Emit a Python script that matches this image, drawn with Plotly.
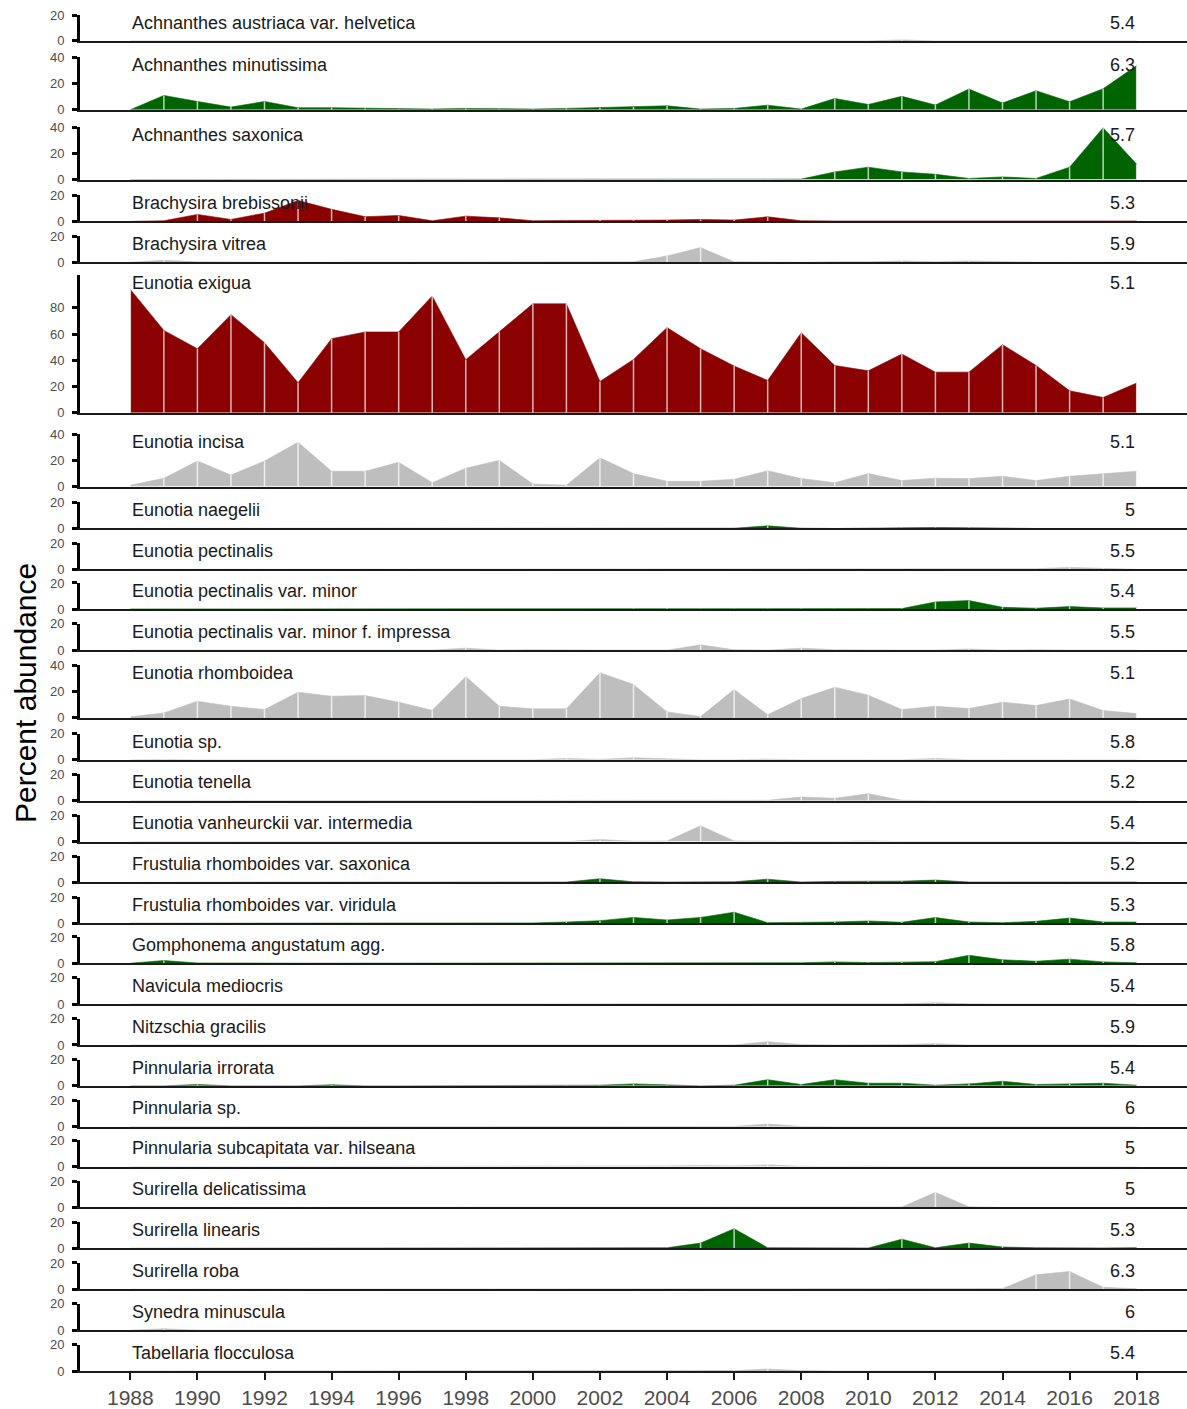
import plotly.graph_objects as go

# ---------------- data ----------------
years = list(range(1988, 2019))
x_tick_years = list(range(1988, 2019, 2))

taxa = [
    "Achnanthes austriaca var. helvetica", "Achnanthes minutissima", "Achnanthes saxonica",
    "Brachysira brebissonii", "Brachysira vitrea", "Eunotia exigua", "Eunotia incisa",
    "Eunotia naegelii", "Eunotia pectinalis", "Eunotia pectinalis var. minor",
    "Eunotia pectinalis var. minor f. impressa", "Eunotia rhomboidea", "Eunotia sp.",
    "Eunotia tenella", "Eunotia vanheurckii var. intermedia",
    "Frustulia rhomboides var. saxonica", "Frustulia rhomboides var. viridula",
    "Gomphonema angustatum agg.", "Navicula mediocris", "Nitzschia gracilis",
    "Pinnularia irrorata", "Pinnularia sp.", "Pinnularia subcapitata var. hilseana",
    "Surirella delicatissima", "Surirella linearis", "Surirella roba",
    "Synedra minuscula", "Tabellaria flocculosa",
]
ph_optima = ["5.4", "6.3", "5.7", "5.3", "5.9", "5.1", "5.1", "5", "5.5", "5.4", "5.5", "5.1",
             "5.8", "5.2", "5.4", "5.2", "5.3", "5.8", "5.4", "5.9", "5.4", "6", "5", "5",
             "5.3", "6.3", "6", "5.4"]
trend = ["none", "up", "up", "down", "none", "down", "none", "up", "none", "up", "none", "none",
         "none", "none", "none", "up", "up", "up", "none", "none", "up", "none", "none", "none",
         "up", "none", "none", "none"]
panel_max = [20, 40, 40, 20, 20, 105, 40, 20, 20, 20, 20, 40, 20, 20, 20, 20, 20, 20, 20, 20,
             20, 20, 20, 20, 20, 20, 20, 20]

y_ticks_small = [0, 20]
y_ticks_mid = [0, 20, 40]
y_ticks_big = [0, 20, 40, 60, 80]

achnanthes_austriaca = [0, 0, 0, 0, 0, 0, 0, 0, 0, 0, 0, 0, 0, 0, 0, 0, 0, 0, 0, 0, 0, 0, 0, 0.8, 0, 0, 0, 0, 0, 0, 0]
achnanthes_minutissima = [0, 10.9, 6.3, 2, 6.3, 1.5, 1.5, 1, 0.5, 0.5, 1, 0.5, 0.5, 1, 1.5, 2, 3, 0.5, 1, 3.5, 0.5, 8.6, 4, 10.2, 3.6, 15.8, 5.1, 14.5, 6.1, 16, 33.6]
achnanthes_saxonica = [0, 0, 0, 0, 0, 0, 0, 0, 0, 0, 0, 0, 0, 0, 0, 0.2, 0.2, 0.2, 0.3, 0.3, 0.3, 5.8, 9.4, 5.8, 4, 0.8, 2, 0.8, 9.4, 39.4, 11.7]
brachysira_brebissonii = [0, 0.5, 5.3, 1.5, 6.3, 16, 9.2, 3.6, 4.5, 0.5, 4, 2.7, 0.5, 0.5, 1, 0.8, 1, 1.5, 1, 3.5, 0.5, 0.3, 0.3, 0.3, 0.3, 0.3, 0.3, 0.3, 0.3, 0.3, 0.3]
brachysira_vitrea = [0, 1.5, 0.3, 0, 0, 0, 0, 0, 0, 0, 0, 0, 0, 0, 0, 0.3, 4.8, 11.2, 0.3, 0, 0, 0.3, 0.3, 1, 0.3, 1, 0.3, 0, 0, 0, 0]
eunotia_exigua = [94, 62.8, 48.8, 74.8, 53.4, 22.9, 56.5, 61.6, 61.6, 89, 40.5, 62, 83, 83, 23.9, 40.7, 64.9, 48.9, 35.6, 24.7, 61, 36.1, 32, 44.8, 31, 31, 51.9, 36.1, 16.8, 11.7, 22.7]
eunotia_incisa = [1, 6.3, 19.5, 8.8, 19.5, 33.8, 11.7, 11.7, 18.5, 3, 14, 20, 2, 1, 21.9, 9.9, 4, 4, 5.6, 12, 6.1, 3, 9.9, 4.6, 6.4, 6.1, 7.9, 4.6, 7.9, 9.9, 11.7]
eunotia_naegelii = [0, 0, 0, 0, 0, 0, 0, 0, 0, 0, 0, 0, 0, 0, 0, 0, 0, 0, 0.2, 2, 0.2, 0, 0, 0.5, 0.8, 0.8, 0.3, 0, 0, 0, 0]
eunotia_pectinalis = [0, 0, 0, 0, 0, 0, 0, 0, 0, 0, 0, 0, 0, 0, 0, 0, 0, 0, 0, 0, 0, 0, 0, 0, 0, 0, 0, 0.5, 1.5, 0.8, 0]
eunotia_pectinalis_minor = [0.2, 0.2, 0.2, 0.2, 0.2, 0.2, 0.2, 0.2, 0.2, 0.2, 0.2, 0.2, 0.2, 0.2, 0.2, 0.5, 0.7, 0.3, 0.3, 0.3, 0.5, 0.3, 0.3, 0.5, 5.6, 6.6, 1.5, 0.8, 2, 1, 1]
eunotia_pectinalis_impressa = [0, 0, 0, 0, 0, 0, 0, 0, 0, 0, 1.5, 0, 0.3, 0, 0, 0, 0, 4, 0.3, 0, 1.5, 0.3, 0, 0, 0, 0.8, 0, 0.3, 0, 0, 0]
eunotia_rhomboidea = [0.8, 3.8, 12.7, 8.9, 6.4, 19.6, 16.5, 17, 12, 5.8, 31.5, 8.9, 6.9, 6.9, 34.4, 25.4, 4.6, 1, 21.6, 2.5, 14.7, 23.4, 17.3, 6.4, 8.9, 7.1, 12, 9.4, 14.5, 5.6, 3.3]
eunotia_sp = [0, 0.3, 0, 0, 0, 0, 0, 0, 0, 0, 0, 0, 0, 1, 0.3, 1.5, 0.5, 0, 0, 0.5, 0, 0, 0.5, 0, 1, 0, 0, 0, 0.5, 0, 0]
eunotia_tenella = [0, 0, 0, 0, 0, 0, 0, 0, 0, 0, 0, 0, 0, 0, 0, 0, 0, 0, 0, 0.3, 2.8, 1.8, 5.3, 0.3, 0, 0, 0, 0, 0, 0, 0]
eunotia_vanheurckii = [0, 0, 0, 0, 0, 0, 0, 0, 0, 0, 0, 0, 0, 0, 1.5, 0.3, 0.5, 12, 0.5, 0, 0, 0, 0.5, 0, 0, 0, 0, 0, 0.5, 0, 0]
frustulia_saxonica = [0, 0, 0, 0, 0, 0, 0, 0, 0, 0, 0, 0, 0.2, 0.3, 2.8, 0.5, 0.3, 0.3, 0.5, 2.5, 0.3, 0.8, 1, 1, 1.8, 0.3, 0.3, 0.3, 0.8, 0.3, 0.3]
frustulia_viridula = [0, 0, 0, 0, 0, 0, 0, 0, 0.3, 0.3, 0.3, 0.5, 0.3, 1, 2, 4.5, 2.5, 4.5, 8.5, 0.5, 0.5, 1, 1.8, 0.8, 4.4, 1, 0.5, 1.5, 4, 1, 1]
gomphonema_angustatum = [0, 2, 0.2, 0, 0, 0, 0, 0, 0, 0, 0, 0, 0, 0, 0, 0, 0, 0, 0, 0, 0.3, 1, 0.5, 0.8, 1.2, 6, 2.6, 1.5, 3.1, 1, 0.3]
navicula_mediocris = [0, 0, 0, 0, 0, 0, 0, 0, 0, 0, 0, 0, 0, 0, 0, 0, 0, 0, 0, 0, 0, 0, 0, 0.2, 1, 0.2, 0, 0, 0, 0, 0]
nitzschia_gracilis = [0, 0, 0, 0, 0, 0, 0, 0, 0, 0, 0, 0, 0, 0, 0, 0, 0, 0, 0, 2.5, 0.3, 0, 0, 0.3, 1, 0, 0, 0, 0, 0, 0]
pinnularia_irrorata = [0, 0, 1, 0, 0, 0, 0.8, 0, 0, 0, 0, 0, 0, 0.5, 0.5, 1.5, 0.5, 0, 0.5, 4.7, 1, 4.7, 2, 2, 0.5, 1.5, 3.5, 1, 1.5, 2, 0.5]
pinnularia_sp = [0, 0, 0, 0, 0, 0, 0, 0, 0, 0, 0, 0, 0, 0, 0, 0, 0, 0, 0.2, 2, 0.2, 0, 0, 0, 0, 0, 0, 0, 0, 0, 0]
pinnularia_subcapitata = [0, 0, 0, 0, 0, 0, 0, 0, 0, 0, 0, 0, 0, 0, 0, 0.3, 0.5, 0.8, 0.5, 1.2, 0.3, 0, 0.3, 0, 0, 0, 0, 0, 0, 0, 0]
surirella_delicatissima = [0, 0, 0, 0, 0, 0, 0, 0, 0, 0, 0, 0, 0, 0, 0, 0, 0, 0, 0, 0, 0, 0, 0, 0.3, 11.5, 0.5, 0, 0, 0, 0, 0]
surirella_linearis = [0, 0, 0, 0, 0, 0, 0, 0, 0, 0, 0, 0, 0, 0, 0, 0, 0.5, 4, 15, 0.5, 0.3, 0.3, 0.3, 7, 0.5, 4, 1, 0.5, 0.3, 0.3, 0.5]
surirella_roba = [0, 0, 0, 0, 0, 0, 0, 0, 0, 0, 0, 0, 0, 0, 0, 0, 0, 0, 0, 0, 0, 0, 0, 0, 0, 0, 0.5, 11, 13.5, 1.5, 0.3]
synedra_minuscula = [0, 1, 0, 0, 0, 0, 0, 0, 0, 0, 0, 0, 0, 0, 0, 0, 0, 0, 0, 0, 0, 0, 0, 0, 0, 0, 0, 0, 0, 0, 0]
tabellaria_flocculosa = [0, 0, 0, 0, 0, 0, 0, 0, 0, 0, 0, 0, 0, 0, 0, 0, 0, 0, 0.3, 1.5, 0.3, 0, 0, 0, 0, 0, 0, 0, 0, 0, 0]

series = [
    achnanthes_austriaca, achnanthes_minutissima, achnanthes_saxonica, brachysira_brebissonii,
    brachysira_vitrea, eunotia_exigua, eunotia_incisa, eunotia_naegelii, eunotia_pectinalis,
    eunotia_pectinalis_minor, eunotia_pectinalis_impressa, eunotia_rhomboidea, eunotia_sp,
    eunotia_tenella, eunotia_vanheurckii, frustulia_saxonica, frustulia_viridula,
    gomphonema_angustatum, navicula_mediocris, nitzschia_gracilis, pinnularia_irrorata,
    pinnularia_sp, pinnularia_subcapitata, surirella_delicatissima, surirella_linearis,
    surirella_roba, synedra_minuscula, tabellaria_flocculosa,
]

# ---------------- layout / style ----------------
trend_colors = {"up": "#006400", "down": "#8B0000", "none": "#BEBEBE"}
FONT = "Liberation Sans, Arial, sans-serif"
W, H = 1187, 1409
M_L, M_R, M_T, M_B = 80, 0, 15, 34
P = H - M_T - M_B
PX_PER_UNIT = 1.3167
# pixel row of each panel's baseline (layout only)
panel_base_px = [41, 110, 180, 222, 263, 414, 488, 530, 571, 611, 652, 720, 762, 803, 844,
                 885, 926, 966, 1007, 1048, 1089, 1130, 1170, 1211, 1252, 1293, 1334, 1375]
n = len(taxa)
plot_bottom = H - M_B


def clamp(v):
    return min(1.0, max(0.0, round(v, 6)))


fig = go.Figure()
layout = {}
annotations = []
for i, (name, vals) in enumerate(zip(taxa, series)):
    k = i + 1
    xa = "x" if k == 1 else f"x{k}"
    ya = "y" if k == 1 else f"y{k}"
    col = trend_colors[trend[i]]
    fig.add_trace(go.Scatter(
        x=years, y=vals, mode="lines", fill="tozeroy", fillcolor=col,
        line=dict(color=col, width=0.6), xaxis=xa, yaxis=ya, hoverinfo="skip",
        showlegend=False))
    sx, sy = [], []
    for yr, v in zip(years, vals):
        if v > 0:
            sx += [yr, yr, None]
            sy += [0, v, None]
    fig.add_trace(go.Scatter(
        x=sx, y=sy, mode="lines", line=dict(color="rgba(255,255,255,0.72)", width=1.5),
        xaxis=xa, yaxis=ya, hoverinfo="skip", showlegend=False))

    base = panel_base_px[i]
    top = base - panel_max[i] * PX_PER_UNIT
    dom = [clamp((plot_bottom - base) / P), clamp((plot_bottom - top) / P)]
    if panel_max[i] > 40:
        tv = y_ticks_big
    elif panel_max[i] > 20:
        tv = y_ticks_mid
    else:
        tv = y_ticks_small
    last = (k == n)
    layout["xaxis" if k == 1 else f"xaxis{k}"] = dict(
        domain=[0, 1], anchor=ya, range=[1986.5, 2019.5],
        showline=True, linecolor="#1a1a1a", linewidth=2,
        showgrid=False, zeroline=False,
        showticklabels=last, ticks="outside" if last else "",
        tickvals=x_tick_years, ticklen=7, tickwidth=1.6, tickcolor="#1a1a1a",
        tickfont=dict(family=FONT, size=21, color="#4d4d4d"),
        **({} if k == 1 else {"matches": "x"}))
    layout["yaxis" if k == 1 else f"yaxis{k}"] = dict(
        domain=dom, anchor=xa, range=[0, panel_max[i]],
        showline=True, linecolor="black", linewidth=3,
        showgrid=False, zeroline=False,
        ticks="outside", ticklen=5, tickwidth=3, tickcolor="black",
        tickvals=tv, tickfont=dict(family=FONT, size=13, color="#4d4d4d"),
        ticklabelstandoff=5)
    annotations.append(dict(
        x=1988, y=1, xref=xa, yref=f"{ya} domain", text=name, showarrow=False,
        xanchor="left", yanchor="top", yshift=4,
        font=dict(family=FONT, size=18, color="#1a1a1a")))
    annotations.append(dict(
        x=2018, y=1, xref=xa, yref=f"{ya} domain", text=ph_optima[i], showarrow=False,
        xanchor="right", yanchor="top", yshift=4,
        font=dict(family=FONT, size=18, color="#1a1a1a")))

annotations.append(dict(
    x=(25 - M_L) / (W - M_L - M_R), y=0.5, xref="paper", yref="paper",
    text="Percent abundance", textangle=-90, showarrow=False,
    xanchor="center", yanchor="middle",
    font=dict(family=FONT, size=30, color="black")))

fig.update_layout(
    width=W, height=H, margin=dict(l=M_L, r=M_R, t=M_T, b=M_B),
    paper_bgcolor="white", plot_bgcolor="white", showlegend=False,
    annotations=annotations, **layout)

fig.write_html(
    "out.html",
    config={"displayModeBar": False},
    post_script="document.body.style.margin='0';document.body.style.overflow='hidden';")
